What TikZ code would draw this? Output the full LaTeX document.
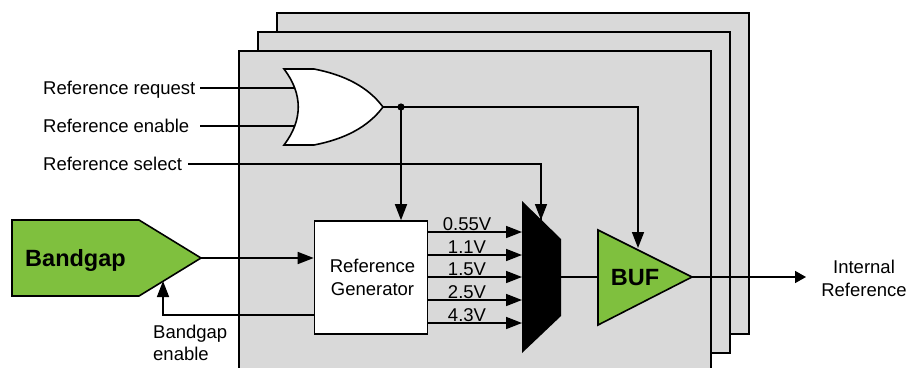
\documentclass[tikz,border=0pt]{standalone}
\usepackage{fontspec}
\setmainfont{Liberation Sans}
\usetikzlibrary{arrows.meta}
\definecolor{cardgray}{HTML}{D9D9D9}
\definecolor{blockgreen}{HTML}{7FC03E}
\tikzset{
  wire/.style={line width=1.6pt},
  sig/.style={wire,-{Triangle[length=16pt,width=12pt]}},
  sigout/.style={wire,-{Triangle[length=11pt,width=12pt]}},
  card/.style={fill=cardgray,draw=black,line width=1.6pt},
  block/.style={fill=blockgreen,draw=black,line width=1.6pt,line join=miter},
  txt/.style={inner sep=0pt,font=\fontsize{18.5}{23}\selectfont},
  big/.style={inner sep=0pt,font=\fontsize{23.5}{28}\selectfont\bfseries}
}
\begin{document}
\begin{tikzpicture}[x=1pt,y=-1pt]
   \useasboundingbox (0,0) rectangle (909,367);
   \begin{scope}
   \clip (0,0) rectangle (909,367);
   \draw[card] (277,13) rectangle (749,334);
   \draw[card] (258,32) rectangle (730,353);
   \draw[card] (239,51) rectangle (711,380);
   \end{scope}
   % input labels
   \node[txt,anchor=base west] (req) at (43,94.5) {Reference request};
   \node[txt,anchor=base west] (ena) at (43,132.5) {Reference enable};
   \node[txt,anchor=base west] (sel) at (43,170.5) {Reference select};
   \coordinate (orA) at (294,88);
   \coordinate (orB) at (294,126);
   \coordinate (orout) at (383,107);
   \coordinate (dot) at (401,107);
   \coordinate (muxsel) at (541,220);
   \coordinate (bufsel) at (638,248);
   \coordinate (bufin) at (598,277);
   \coordinate (bufout) at (692,277);
   \coordinate (muxout) at (561,277);
   \coordinate (bgout) at (201,258);
   \coordinate (bgen) at (163,281);
   \coordinate (outend) at (806,277);
   \draw[wire] (200,88) -- (orA);
   \draw[wire] (200,126) -- (orB);
   \draw[block,fill=white] (284,69) -- (314,69)
      .. controls (345,75) and (368,87) .. (orout)
      .. controls (368,127) and (345,139) .. (314,145)
      -- (284,145) .. controls (303,120) and (303,94) .. cycle;
   \draw[wire] (orout) -- (dot);
   \fill (dot) circle(3.6);
   \draw[sig] (dot) -| (bufsel);
   % generator
   \node[draw=black,fill=white,line width=1.6pt,minimum width=113pt,minimum height=113pt,
      inner sep=0pt,align=center,font=\fontsize{18.5}{23}\selectfont] (gen) at (371,277.5) {\hspace{3pt}Reference\\\hspace{3pt}Generator};
   \draw[sig] (dot) -- (gen.north -| dot);
   \draw[wire] (188,164) -| (muxsel);
   % mux
   \fill[black] (522,201) -- (561,239) -- (561,316) -- (522,353) -- cycle;
   \draw[sig] (541,164) -- (muxsel);
   \foreach \y/\v in {232/0.55V,255/1.1V,277/1.5V,300/2.5V,323/4.3V} {
    \coordinate (genout) at (428,\y);
    \coordinate (muxin) at (522,\y);
    \draw[sig] (genout) -- (muxin);
    \node[txt,anchor=south] (lab\v) at (467,\y-1.5) {\v};
   }
   % green blocks
   \draw[wire] (muxout) -- (bufin);
   \draw[block] (598,230) -- (bufout) -- (598,325) -- cycle;
   \node[big,anchor=base] (buf) at (635,285) {BUF};
   \draw[block] (12,220) -- (139,220) -- (bgout) -- (139,296) -- (12,296) -- cycle;
   \node[big,anchor=base] (bandgap) at (75.5,266) {Bandgap};
   \draw[sig] (bgout) -- (gen.west |- bgout);
   \draw[sig] (gen.west |- 0,315) -| (bgen);
   \node[txt,anchor=base west] (bgena) at (153,338) {Bandgap};
   \node[txt,anchor=base west] (bgenb) at (153,360) {enable};
   \draw[sigout] (bufout) -- (outend);
   \node[txt,align=center] (intref) at (864,278.5) {Internal\\Reference};
\end{tikzpicture}
\end{document}
